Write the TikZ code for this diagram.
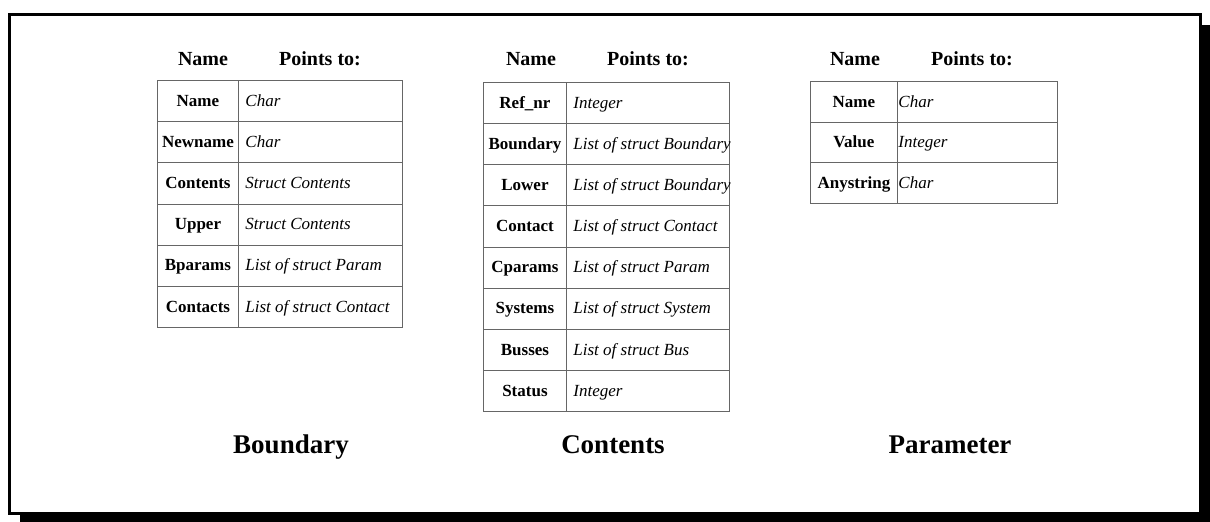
\documentclass[tikz,border=0pt]{standalone}
\usepackage{fontspec}
\setmainfont{Liberation Serif}

% One record layout: key column (bold, centred) and type column (italic, left).
% #1 prefix, #2 left x, #3 divider x, #4 right x, #5 top y, #6 row height,
% #7 indent of the type text, #8 list of key/type pairs
\newcommand\recordtable[8]{%
  \pgfmathsetmacro\keywd{#3-#2}%
  \pgfmathsetmacro\typewd{#4-#3}%
  \foreach \fname/\ftype [count=\i] in {#8} {
    \pgfmathsetmacro\rowtop{#5+(\i-1)*#6}
    \node[keycell, minimum width=\keywd pt, minimum height=#6 pt]
      (#1-k\i) at (#2,\rowtop) {\fname};
    \node[typecell, minimum width=\typewd pt, minimum height=#6 pt]
      (#1-t\i) at (#3,\rowtop) {\makebox[\typewd pt][l]{\hspace{#7pt}\ftype}};
  }%
}

\begin{document}
\begin{tikzpicture}[x=1pt,y=-1pt,
  gridline/.style={draw=black!60, line width=0.9pt},
  keycell/.style={gridline, anchor=north west, inner sep=0pt,
    font=\fontsize{17}{20}\selectfont\bfseries, text height=12.5pt, text depth=2pt},
  typecell/.style={gridline, anchor=north west, inner sep=0pt,
    font=\fontsize{17}{20}\selectfont\itshape, text height=12.5pt, text depth=2pt},
  colhead/.style={anchor=base, font=\fontsize{20}{24}\selectfont\bfseries},
  caption/.style={anchor=base, font=\fontsize{27}{32}\selectfont\bfseries},
]
\useasboundingbox (0,0) rectangle (1210,522);

% page frame with its drop shadow
\fill[white] (0,0) rectangle (1210,522);
\draw[line width=3pt] (9,14) rectangle (1200,513);
\fill (1200,25) rectangle (1210,522);
\fill (20,512) rectangle (1210,522);

% Boundary
\node[colhead] (bname) at (203,65) {Name};
\node[colhead] (bpts)  at (320,65) {Points to:};
\recordtable{bnd}{157}{238}{402}{80}{41.17}{7}{%
  Name/Char,
  Newname/Char,
  Contents/Struct Contents,
  Upper/Struct Contents,
  Bparams/List of struct Param,
  Contacts/List of struct Contact}
\node[caption] (btitle) at (291,453) {Boundary};

% Contents
\node[colhead] (cname) at (531,65) {Name};
\node[colhead] (cpts)  at (648,65) {Points to:};
\recordtable{cnt}{483}{566}{729}{82}{41.125}{7}{%
  Ref\_nr/Integer,
  Boundary/List of struct Boundary,
  Lower/List of struct Boundary,
  Contact/List of struct Contact,
  Cparams/List of struct Param,
  Systems/List of struct System,
  Busses/List of struct Bus,
  Status/Integer}
\node[caption] (ctitle) at (613,453) {Contents};

% Parameter
\node[colhead] (pname) at (855,65) {Name};
\node[colhead] (ppts)  at (972,65) {Points to:};
\recordtable{par}{810}{897}{1057}{81}{40.67}{1}{%
  Name/Char,
  Value/Integer,
  Anystring/Char}
\node[caption] (ptitle) at (950,453) {Parameter};
\end{tikzpicture}
\end{document}
